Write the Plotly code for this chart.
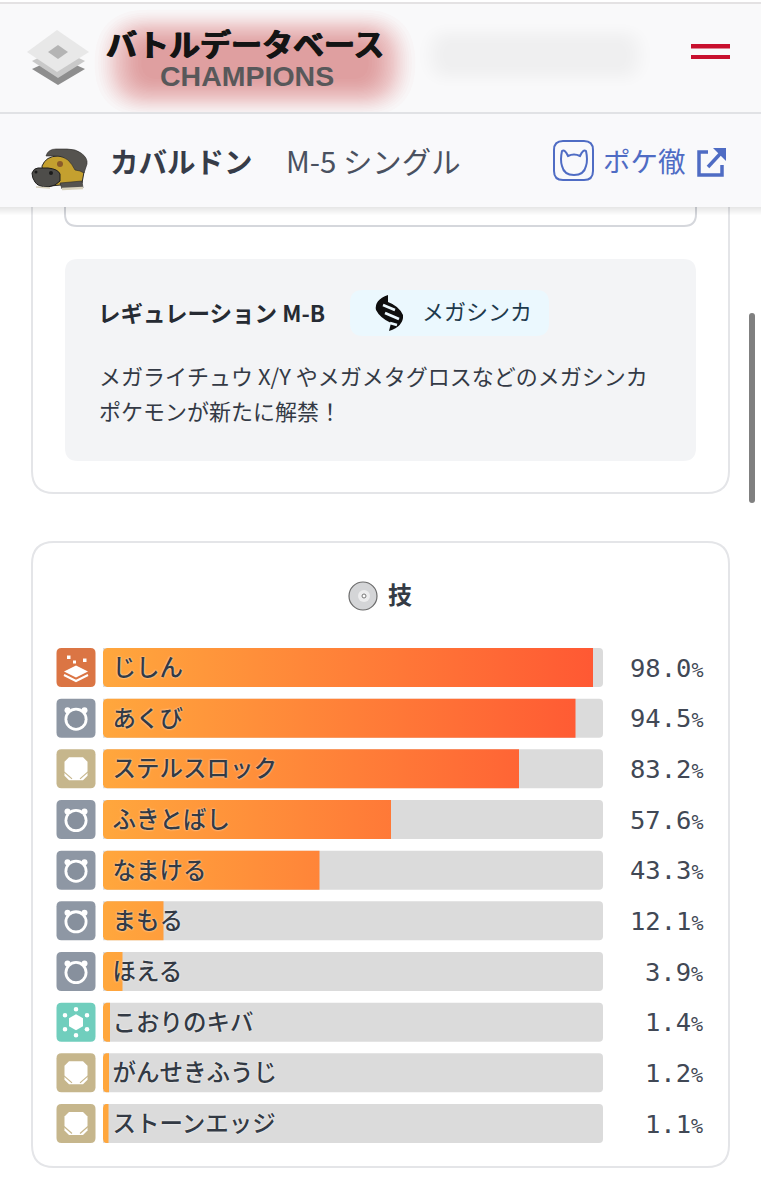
import math
import plotly.graph_objects as go

moves = ["じしん", "あくび", "ステルスロック", "ふきとばし", "なまける",
         "まもる", "ほえる", "こおりのキバ", "がんせきふうじ", "ストーンエッジ"]
rates = [98.0, 94.5, 83.2, 57.6, 43.3, 12.1, 3.9, 1.4, 1.2, 1.1]
move_types = ["ground", "normal", "rock", "normal", "normal",
              "normal", "normal", "ice", "rock", "rock"]
type_colors = {"ground": "#DB7544", "normal": "#8E97A4", "rock": "#C6B68C", "ice": "#70CEBD"}

W, H = 761, 1200
TRACK_L, TRACK_R = 103, 603
ROW_TOP, ROW_PITCH = 642.17, 50.67
BAR_H = 39 / ROW_PITCH
rows = list(range(len(moves)))

FONT = "Noto Sans CJK JP"
MONO = "DejaVu Sans Mono"

fig = go.Figure()

# grey tracks
fig.add_trace(go.Bar(
    x=[100] * len(moves), y=rows, orientation="h", width=BAR_H,
    marker=dict(color="#DBDBDB", cornerradius=4, line_width=0),
    hoverinfo="skip", showlegend=False,
))


# value bars are filled polygons because a bar trace has no gradient
def bar_outline(value, row):
    rx = min(0.8, value / 2)
    ry = 4 / ROW_PITCH
    top, bot = row - BAR_H / 2, row + BAR_H / 2
    xs = [rx, value, value, rx, rx * 0.3, 0, 0, rx * 0.3, rx]
    ys = [top, top, bot, bot, bot - ry * 0.3, bot - ry, top + ry, top + ry * 0.3, top]
    return xs, ys


for row, value in zip(rows, rates):
    xs, ys = bar_outline(value, row)
    fig.add_trace(go.Scatter(
        x=xs, y=ys, mode="none", fill="toself",
        fillgradient=dict(type="horizontal", start=0, stop=100,
                          colorscale=[[0, "#FFA73D"], [1, "#FF5733"]]),
        hoverinfo="skip", showlegend=False,
    ))

# labels sit a touch low in the row, the font's box is centred higher than its ink
fig.add_trace(go.Scatter(
    x=[1.9] * len(moves), y=[r + 0.05 for r in rows], mode="text", text=moves, textposition="middle right",
    textfont=dict(family=FONT, size=23.5, color="#333A44", weight=500,
                  shadow="0 0 2px rgba(255,255,255,0.95)"),
    cliponaxis=False, hoverinfo="skip", showlegend=False,
))

# empty trace, keeps the pixel axes alive for the page furniture
fig.add_trace(go.Scatter(x=[], y=[], xaxis="x2", yaxis="y2", showlegend=False, hoverinfo="skip"))

shapes = []
notes = []

for row, value in zip(rows, rates):
    notes.append(dict(xref="x2", yref="y", x=705, y=row, showarrow=False, xanchor="right", yanchor="middle",
                      text=f'{value:.1f}<span style="font-size:20px">%</span>',
                      font=dict(family=MONO, size=25.5, color="#414855")))


def add_path(path, fill, line=None, width=0):
    shapes.append(dict(type="path", xref="x2", yref="y2", path=path, fillcolor=fill,
                       line=dict(color=line or "rgba(0,0,0,0)", width=width)))


def rrect(x0, y0, x1, y1, r):
    return (f"M{x0+r},{y0} L{x1-r},{y0} Q{x1},{y0} {x1},{y0+r} L{x1},{y1-r} Q{x1},{y1} {x1-r},{y1} "
            f"L{x0+r},{y1} Q{x0},{y1} {x0},{y1-r} L{x0},{y0+r} Q{x0},{y0} {x0+r},{y0} Z")


def poly(points):
    return "M" + " L".join(f"{x},{y}" for x, y in points) + " Z"


def circle(cx, cy, r, fill, line=None, width=0):
    shapes.append(dict(type="circle", xref="x2", yref="y2", x0=cx-r, x1=cx+r, y0=cy-r, y1=cy+r,
                       fillcolor=fill, line=dict(color=line or "rgba(0,0,0,0)", width=width)))


def note(x, y, text, size, color, family=FONT, weight=400, anchor="left", shadow=None):
    font = dict(family=family, size=size, color=color, weight=weight)
    if shadow:
        font["shadow"] = shadow
    notes.append(dict(xref="x2", yref="y2", x=x, y=y, text=text, showarrow=False, xanchor=anchor,
                      yanchor="middle", borderpad=0, font=font))


# soft blob: stacked translucent pills, insets spaced on an inverse smoothstep
def blur(x0, y0, x1, y1, color, steps, ramp):
    for k in range(steps):
        t = (k + 0.5) / steps
        d = ramp * (0.5 - math.sin(math.asin(1 - 2 * t) / 3))
        a, b = d, d * 0.8
        r = (y1 - y0 - 2 * b) / 2
        add_path(rrect(x0 + a, y0 + b, x1 - a, y1 - b, r), color)


# cards
add_path(rrect(32, 150, 729, 493, 22), "rgba(0,0,0,0)", "#E4E5E8", 2)
add_path(rrect(32, 542, 729, 1167, 22), "rgba(0,0,0,0)", "#E4E5E8", 2)
add_path(rrect(65, 150, 696, 226, 12), "rgba(255,255,255,0)", "#D5D7DC", 2)

# regulation box
add_path(rrect(65, 259, 696, 461, 13), "#F3F4F6")
note(97, 312, "<b>レギュレーション M-B</b>", 22.5, "#262B33")
add_path(rrect(350, 290, 549, 336, 13), "#EBF8FE")
note(421, 310, "メガシンカ", 22, "#1E3A4C")
note(98, 375, "メガライチュウ X/Y やメガメタグロスなどのメガシンカ", 22, "#343A45")
note(98, 410, "ポケモンが新たに解禁！", 22, "#343A45")
# mega symbol
add_path("M388,295 Q374,300 376,310 Q380,318 391,323 L389,331 Q404,326 403,315 Q399,306 388,302 Z", "#0E0E0E")
for x0, y0, x1, y1 in [(383, 305, 395, 310), (385, 313, 399, 319), (390, 323, 397, 325)]:
    add_path(f"M{x0},{y0} L{x1},{y1}", "rgba(0,0,0,0)", "#EBF8FE", 2.6)

# moves title
circle(363, 596, 14, "#D4D5D7", "#6B6B6B", 1.2)
circle(364, 596, 6, "#EDEDEE")
circle(364, 596, 2, "#FFFFFF", "#777777", 1)
note(387, 593, "<b>技</b>", 24, "#343B45")

# type icons
for row, kind in zip(rows, move_types):
    cy = ROW_TOP + ROW_PITCH * (row + 0.5)
    cx = 76
    color = type_colors[kind]
    add_path(rrect(cx - 19.5, cy - 19.5, cx + 19.5, cy + 19.5, 5), color)
    if kind == "normal":
        cy2 = cy + 1
        circle(cx - 8.5, cy2 - 9, 3, "#FFFFFF")
        circle(cx + 8.5, cy2 - 9, 3, "#FFFFFF")
        circle(cx, cy2, 11.5, "#FFFFFF")
        circle(cx, cy2, 8.7, "#87909D")
    elif kind == "rock":
        o, i = 11.5, 7
        add_path(poly([(cx-i, cy-o), (cx+i, cy-o), (cx+o, cy-i), (cx+o, cy+i),
                       (cx+i, cy+o), (cx-i, cy+o), (cx-o, cy+i), (cx-o, cy-i)]), "#FFFFFF")
        add_path(f"M{cx-12},{cy+3} L{cx-4},{cy+10}", "rgba(0,0,0,0)", color, 1.2)
        add_path(f"M{cx+12},{cy+3} L{cx+4},{cy+10}", "rgba(0,0,0,0)", color, 1.2)
    elif kind == "ice":
        add_path(poly([(cx, cy-8), (cx+7, cy-4), (cx+7, cy+4), (cx, cy+8), (cx-7, cy+4), (cx-7, cy-4)]), "#FFFFFF")
        for dx, dy in [(0, -13), (11, -7), (11, 7), (0, 13), (-11, 7), (-11, -7)]:
            circle(cx + dx, cy + dy, 2.3, "#FFFFFF")
    else:
        add_path(poly([(cx, cy-2), (cx+12, cy+4), (cx, cy+10), (cx-12, cy+4)]), "#FFFFFF")
        add_path(f"M{cx-12},{cy+7.5} L{cx},{cy+13.5} L{cx+12},{cy+7.5}", "rgba(0,0,0,0)", "#FFFFFF", 2)
        for dx, dy, s in [(-9, -12, 3.5), (-3, -7, 3), (7, -9, 3.5)]:
            add_path(poly([(cx+dx, cy+dy), (cx+dx+s, cy+dy), (cx+dx+s, cy+dy+s), (cx+dx, cy+dy+s)]), "#FFFFFF")

# sticky headers
shapes.append(dict(type="rect", xref="x2", yref="y2", x0=0, x1=W, y0=4, y1=112, fillcolor="#F9F9FA", line_width=0))
shapes.append(dict(type="rect", xref="x2", yref="y2", x0=0, x1=W, y0=114, y1=207, fillcolor="#F9F9FB", line_width=0))
shapes.append(dict(type="rect", xref="x2", yref="y2", x0=0, x1=W, y0=2, y1=4, fillcolor="#E4E2E3", line_width=0))
for k in range(8):
    shapes.append(dict(type="rect", xref="x2", yref="y2", x0=0, x1=W, y0=207, y1=207 + k + 1,
                       fillcolor="rgba(0,0,0,0.012)", line_width=0))

blur(90, 6, 420, 120, "rgba(215,50,75,0.019)", 26, 56)
blur(415, 20, 655, 90, "rgba(60,60,70,0.002)", 10, 32)
blur(380, 170, 650, 205, "rgba(60,60,70,0.001)", 8, 16)
# divider goes over the blob so the pink stops at the first header
shapes.append(dict(type="rect", xref="x2", yref="y2", x0=0, x1=W, y0=112, y1=114, fillcolor="#E1E2E5", line_width=0))
shapes.append(dict(type="rect", xref="x2", yref="y2", x0=0, x1=W, y0=114, y1=122, fillcolor="#F9F9FB", line_width=0))

# logo mark
add_path(poly([(58, 57), (85, 69), (58, 85), (32, 69)]), "#8E8E8E")
add_path(poly([(58, 48), (85, 61), (58, 78), (32, 61)]), "#C9C9C9")
add_path(poly([(57, 30), (89, 52), (57, 72), (27, 52)]), "#E8E8E8")
add_path(poly([(58, 45), (68, 52), (58, 59), (48, 52)]), "#B4B4B4")
note(105, 42, "<b>バトルデータベース</b>", 31, "#141414", weight=900,
     shadow="0.7px 0 0 #141414, -0.7px 0 0 #141414")
note(247, 76, "<b>CHAMPIONS</b>", 28.5, "#58585A", family="Liberation Sans", anchor="center")

# menu button
for y0, y1 in [(44, 48.5), (55, 59)]:
    shapes.append(dict(type="rect", xref="x2", yref="y2", x0=691, x1=730, y0=y0, y1=y1, fillcolor="#C8102E", line_width=0))

# sprite
add_path("M42,166 Q46,156 58,156 Q78,158 84,172 L82,183 L50,186 Q42,180 42,166 Z", "#C4A02F", "#2B2A28", 1)
add_path("M46,156 Q48,149 56,149 L67,149 Q76,149 81,153 Q88,158 87,164 L84,173 L80,171 L75,170 "
         "Q72,164 68,160 Q62,156 58,156 Q50,156 46,156 Z", "#55534F", "#2B2A28", 0.6)
add_path("M60,183 L82,181 L83,188 L62,189 Z", "#55534F", "#2B2A28", 0.6)
add_path("M32,173 Q34,168 38,168 L48,168 Q58,169 60,174 L60,181 Q56,186 48,187 Q38,187 35,182 Q32,178 32,173 Z",
         "#4E4D4A", "#1F1E1D", 1)
circle(60, 164, 3, "#8A5A2A")
circle(36, 172, 1.5, "#1A1A1A")
circle(51, 173, 2, "#1A1A1A")
add_path("M62,189 L83,188", "rgba(0,0,0,0)", "#D8D2BE", 2.5)
add_path("M36,187 L50,188", "rgba(0,0,0,0)", "#D8D2BE", 1.5)
note(109, 160, "<b>カバルドン</b>", 28.5, "#373C48")
note(285, 160, "M-5 シングル", 29.4, "#4A5160")

# pokedex link
BLUE = "#4F6CC4"
add_path(rrect(554, 141, 593, 180, 9), "rgba(0,0,0,0)", BLUE, 2)
add_path("M562,151 Q565,149 568,156 Q574,153 580,156 Q583,149 586,151 Q588,160 586,166 Q584,175 574,175 "
         "Q564,175 562,166 Q560,160 562,151 Z", "rgba(0,0,0,0)", BLUE, 2)
note(602, 160, "ポケ徹", 27.5, BLUE)
add_path("M708,152 L699,152 L699,175 L722,175 L722,165", "rgba(0,0,0,0)", BLUE, 3.5)
add_path(poly([(713, 148), (726, 148), (726, 161)]), BLUE)
add_path("M708,167 L720,154", "rgba(0,0,0,0)", BLUE, 3.5)

# scrollbar
add_path(rrect(749, 313, 755, 503, 3), "#808080")

fig.update_layout(
    width=W, height=H, autosize=False,
    margin=dict(l=0, r=0, t=0, b=0),
    paper_bgcolor="#FFFFFF", plot_bgcolor="rgba(0,0,0,0)",
    showlegend=False, barmode="overlay",
    xaxis=dict(domain=[TRACK_L / W, TRACK_R / W], range=[0, 100], visible=False, fixedrange=True),
    yaxis=dict(domain=[1 - (ROW_TOP + ROW_PITCH * len(moves)) / H, 1 - ROW_TOP / H],
               range=[len(moves) - 0.5, -0.5], visible=False, fixedrange=True),
    xaxis2=dict(domain=[0, 1], range=[0, W], visible=False, fixedrange=True, anchor="y2"),
    yaxis2=dict(domain=[0, 1], range=[H, 0], visible=False, fixedrange=True, anchor="x2"),
    shapes=shapes,
    annotations=notes,
)

# the page's default body margin would push everything 8px in
fig.write_html("out.html", config=dict(displayModeBar=False),
               post_script="document.body.style.margin='0';")
